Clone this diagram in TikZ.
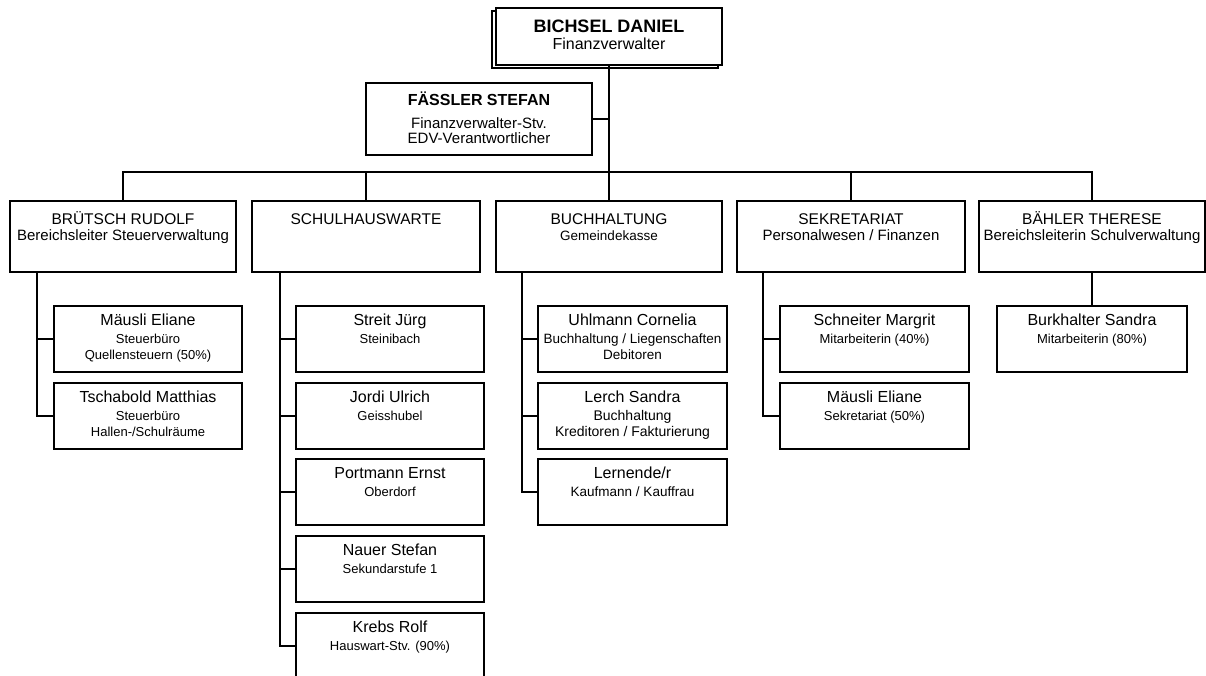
\documentclass[tikz,border=0pt]{standalone}
\usepackage{fontspec}
\setmainfont{Liberation Sans}
\newcommand\fsz[1]{\fontsize{#1}{#1}\selectfont}
\newcommand\OTxt[5]{\node[txt, font=#4] (#1) at ([yshift=-#3pt]#2.north) {#5};}
\tikzset{
  box/.style={draw, line width=2pt, fill=white, inner sep=0pt, rectangle},
  ln/.style={line width=2pt},
  txt/.style={anchor=base, inner sep=0pt},
}
\begin{document}
\begin{tikzpicture}[x=1pt,y=-1pt]
\useasboundingbox (0,0) rectangle (1206,675);
\clip (0,0) rectangle (1206,675);

% top (with offset shadow outline)
\draw[ln] (492,11) rectangle (718,68);
\node[box, minimum width=226pt, minimum height=57pt] (top) at (609,36.5) {};
\OTxt{t1}{top}{25}{\bfseries\fsz{18}}{BICHSEL DANIEL}
\OTxt{t2}{top}{42}{\fsz{16}}{Finanzverwalter}

% deputy
\node[box, minimum width=226pt, minimum height=72pt] (fs) at (479,119) {};
\OTxt{f1}{fs}{23}{\bfseries\fsz{16}}{FÄSSLER STEFAN}
\OTxt{f2}{fs}{46}{\fsz{15}}{Finanzverwalter-Stv.}
\OTxt{f3}{fs}{61}{\fsz{15}}{EDV-Verantwortlicher}

% level 2
\node[box, minimum width=226pt, minimum height=71pt] (b1) at (123,236.5) {};
\node[box, minimum width=228pt, minimum height=71pt] (b2) at (366,236.5) {};
\node[box, minimum width=226pt, minimum height=71pt] (b3) at (609,236.5) {};
\node[box, minimum width=228pt, minimum height=71pt] (b4) at (851,236.5) {};
\node[box, minimum width=226pt, minimum height=71pt] (b5) at (1092,236.5) {};
\OTxt{b1a}{b1}{24}{\fsz{15.5}}{BRÜTSCH RUDOLF}
\OTxt{b1b}{b1}{40}{\fsz{15}}{Bereichsleiter Steuerverwaltung}
\OTxt{b2a}{b2}{24}{\fsz{15.5}}{SCHULHAUSWARTE}
\OTxt{b3a}{b3}{24}{\fsz{15.5}}{BUCHHALTUNG}
\OTxt{b3b}{b3}{40}{\fsz{13.5}}{Gemeindekasse}
\OTxt{b4a}{b4}{24}{\fsz{15.5}}{SEKRETARIAT}
\OTxt{b4b}{b4}{40}{\fsz{15}}{Personalwesen / Finanzen}
\OTxt{b5a}{b5}{24}{\fsz{15.5}}{BÄHLER THERESE}
\OTxt{b5b}{b5}{40}{\fsz{15}}{Bereichsleiterin Schulverwaltung}

% level 3
\tikzset{kid/.style={box, minimum height=66pt}}
\node[kid, minimum width=188pt] (k11) at (148,339) {};
\node[kid, minimum width=188pt] (k12) at (148,416) {};
\node[kid, minimum width=188pt] (k21) at (390,339) {};
\node[kid, minimum width=188pt] (k22) at (390,416) {};
\node[kid, minimum width=188pt] (k23) at (390,492) {};
\node[kid, minimum width=188pt] (k24) at (390,569) {};
\node[kid, minimum width=188pt] (k25) at (390,646) {};
\node[kid, minimum width=189pt] (k31) at (632.5,339) {};
\node[kid, minimum width=189pt] (k32) at (632.5,416) {};
\node[kid, minimum width=189pt] (k33) at (632.5,492) {};
\node[kid, minimum width=189pt] (k41) at (874.5,339) {};
\node[kid, minimum width=189pt] (k42) at (874.5,416) {};
\node[kid, minimum width=190pt] (k51) at (1092,339) {};

\OTxt{k11a}{k11}{20.5}{\fsz{16}}{Mäusli Eliane}
\OTxt{k11b}{k11}{38.5}{\fsz{13}}{Steuerbüro}
\OTxt{k11c}{k11}{54}{\fsz{13}}{Quellensteuern (50\%)}
\OTxt{k12a}{k12}{20.5}{\fsz{16}}{Tschabold Matthias}
\OTxt{k12b}{k12}{38.5}{\fsz{13}}{Steuerbüro}
\OTxt{k12c}{k12}{54}{\fsz{13}}{Hallen-/Schulräume}

\OTxt{k21a}{k21}{20.5}{\fsz{16}}{Streit Jürg}
\OTxt{k21b}{k21}{38}{\fsz{13}}{Steinibach}
\OTxt{k22a}{k22}{20.5}{\fsz{16}}{Jordi Ulrich}
\OTxt{k22b}{k22}{38}{\fsz{13}}{Geisshubel}
\OTxt{k23a}{k23}{20.5}{\fsz{16}}{Portmann Ernst}
\OTxt{k23b}{k23}{38}{\fsz{13}}{Oberdorf}
\OTxt{k24a}{k24}{20.5}{\fsz{16}}{Nauer Stefan}
\OTxt{k24b}{k24}{38}{\fsz{13}}{Sekundarstufe 1}
\OTxt{k25a}{k25}{20.5}{\fsz{16}}{Krebs Rolf}
\OTxt{k25b}{k25}{38}{\fsz{13}}{Hauswart-Stv. (90\%)}

\OTxt{k31a}{k31}{20.5}{\fsz{16}}{Uhlmann Cornelia}
\OTxt{k31b}{k31}{38.5}{\fsz{13.5}}{Buchhaltung / Liegenschaften}
\OTxt{k31c}{k31}{54}{\fsz{13.5}}{Debitoren}
\OTxt{k32a}{k32}{20.5}{\fsz{16}}{Lerch Sandra}
\OTxt{k32b}{k32}{38.5}{\fsz{14}}{Buchhaltung}
\OTxt{k32c}{k32}{54}{\fsz{14}}{Kreditoren / Fakturierung}
\OTxt{k33a}{k33}{20.5}{\fsz{16}}{Lernende/r}
\OTxt{k33b}{k33}{38.5}{\fsz{13.5}}{Kaufmann / Kauffrau}

\OTxt{k41a}{k41}{20.5}{\fsz{16}}{Schneiter Margrit}
\OTxt{k41b}{k41}{38}{\fsz{13}}{Mitarbeiterin (40\%)}
\OTxt{k42a}{k42}{20.5}{\fsz{16}}{Mäusli Eliane}
\OTxt{k42b}{k42}{38}{\fsz{13}}{Sekretariat (50\%)}

\OTxt{k51a}{k51}{20.5}{\fsz{16}}{Burkhalter Sandra}
\OTxt{k51b}{k51}{38}{\fsz{13}}{Mitarbeiterin (80\%)}

% connectors
\coordinate (bar) at (0,172);
\draw[ln] (top.south) -- (top.south |- bar);
\draw[ln] (fs.east) -- (fs.east -| top.south);
\draw[ln] (b1.north) -- (b1.north |- bar) -- (b5.north |- bar) -- (b5.north);
\draw[ln] (b2.north) -- (b2.north |- bar);
\draw[ln] (b3.north) -- (b3.north |- bar);
\draw[ln] (b4.north) -- (b4.north |- bar);

\coordinate (s1) at ([xshift=28pt]b1.south west);
\coordinate (s2) at ([xshift=29pt]b2.south west);
\coordinate (s3) at ([xshift=27pt]b3.south west);
\coordinate (s4) at ([xshift=27pt]b4.south west);
\draw[ln] (s1) |- (k11.west);
\draw[ln] (s1) |- (k12.west);
\draw[ln] (s2) |- (k21.west);
\draw[ln] (s2) |- (k22.west);
\draw[ln] (s2) |- (k23.west);
\draw[ln] (s2) |- (k24.west);
\draw[ln] (s2) |- (k25.west);
\draw[ln] (s3) |- (k31.west);
\draw[ln] (s3) |- (k32.west);
\draw[ln] (s3) |- (k33.west);
\draw[ln] (s4) |- (k41.west);
\draw[ln] (s4) |- (k42.west);
\draw[ln] (b5.south) -- (k51.north);
\end{tikzpicture}
\end{document}
